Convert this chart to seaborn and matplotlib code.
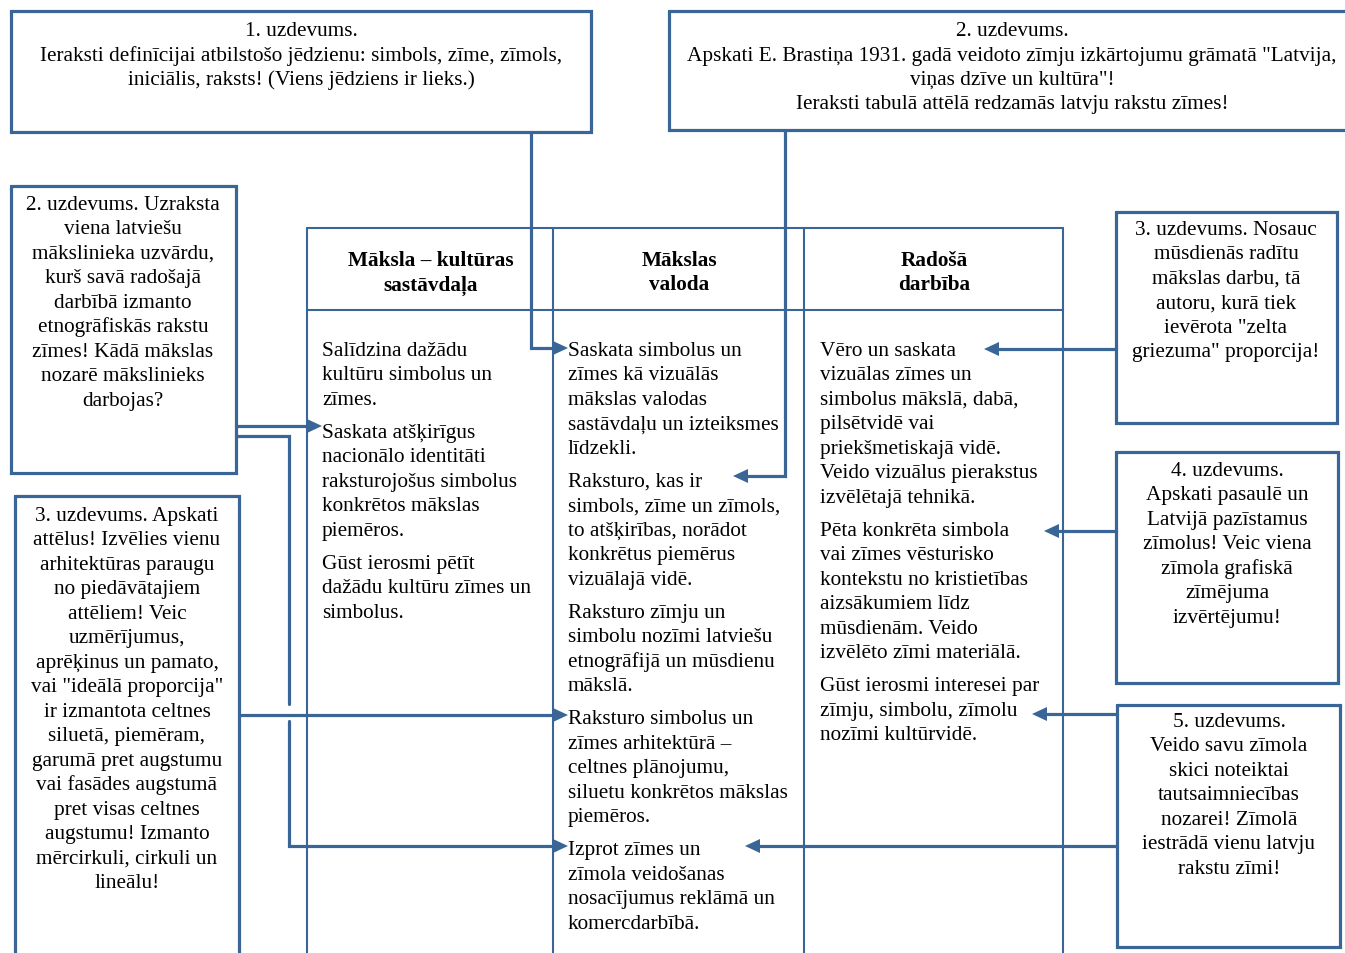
import matplotlib
matplotlib.use("Agg")
import matplotlib.pyplot as plt
import seaborn as sns

sns.set_theme(style="white")
plt.rcParams["font.family"] = ["Liberation Serif", "DejaVu Serif"]

# ---- texts ----
task_top1 = ["1. uzdevums.",
             "Ieraksti definīcijai atbilstošo jēdzienu: simbols, zīme, zīmols,",
             "iniciālis, raksts! (Viens jēdziens ir lieks.)"]
task_top2 = ["2. uzdevums.",
             "Apskati E. Brastiņa 1931. gadā veidoto zīmju izkārtojumu grāmatā \"Latvija,",
             "viņas dzīve un kultūra\"!",
             "Ieraksti tabulā attēlā redzamās latvju rakstu zīmes!"]
task_left2 = ["2. uzdevums. Uzraksta", "viena latviešu", "mākslinieka uzvārdu,",
              "kurš savā radošajā", "darbībā izmanto", "etnogrāfiskās rakstu",
              "zīmes! Kādā mākslas", "nozarē mākslinieks", "darbojas?"]
task_left3 = ["3. uzdevums. Apskati", "attēlus! Izvēlies vienu", "arhitektūras paraugu",
              "no piedāvātajiem", "attēliem! Veic", "uzmērījumus,", "aprēķinus un pamato,",
              "vai \"ideālā proporcija\"", "ir izmantota celtnes", "siluetā, piemēram,",
              "garumā pret augstumu", "vai fasādes augstumā", "pret visas celtnes",
              "augstumu! Izmanto", "mērcirkuli, cirkuli un", "lineālu!"]
task_right3 = ["3. uzdevums. Nosauc", "mūsdienās radītu", "mākslas darbu, tā",
               "autoru, kurā tiek", "ievērota \"zelta", "griezuma\" proporcija!"]
task_right4 = ["4. uzdevums.", "Apskati pasaulē un", "Latvijā pazīstamus",
               "zīmolus! Veic viena", "zīmola grafiskā", "zīmējuma", "izvērtējumu!"]
task_right5 = ["5. uzdevums.", "Veido savu zīmola", "skici noteiktai",
               "tautsaimniecības", "nozarei! Zīmolā", "iestrādā vienu latvju",
               "rakstu zīmi!"]

col_headers = [["Māksla – kultūras", "sastāvdaļa"],
               ["Mākslas", "valoda"],
               ["Radošā", "darbība"]]

col1_items = [["Salīdzina dažādu", "kultūru simbolus un", "zīmes."],
              ["Saskata atšķirīgus", "nacionālo identitāti", "raksturojošus simbolus",
               "konkrētos mākslas", "piemēros."],
              ["Gūst ierosmi pētīt", "dažādu kultūru zīmes un", "simbolus."]]
col2_items = [["Saskata simbolus un", "zīmes kā vizuālās", "mākslas valodas",
               "sastāvdaļu un izteiksmes", "līdzekli."],
              ["Raksturo, kas ir", "simbols, zīme un zīmols,", "to atšķirības, norādot",
               "konkrētus piemērus", "vizuālajā vidē."],
              ["Raksturo zīmju un", "simbolu nozīmi latviešu", "etnogrāfijā un mūsdienu",
               "mākslā."],
              ["Raksturo simbolus un", "zīmes arhitektūrā –", "celtnes plānojumu,",
               "siluetu konkrētos mākslas", "piemēros."],
              ["Izprot zīmes un", "zīmola veidošanas", "nosacījumus reklāmā un",
               "komercdarbībā."]]
col3_items = [["Vēro un saskata", "vizuālas zīmes un", "simbolus mākslā, dabā,",
               "pilsētvidē vai", "priekšmetiskajā vidē.", "Veido vizuālus pierakstus",
               "izvēlētajā tehnikā."],
              ["Pēta konkrēta simbola", "vai zīmes vēsturisko", "kontekstu no kristietības",
               "aizsākumiem līdz", "mūsdienām. Veido", "izvēlēto zīmi materiālā."],
              ["Gūst ierosmi interesei par", "zīmju, simbolu, zīmolu", "nozīmi kultūrvidē."]]

# ---- layout ----
BLUE = "#3a6697"
FS = 15.35
STEP = 24.5
PAR_GAP = 8.5

fig = plt.figure(figsize=(13.45, 9.54), dpi=100)
ax = fig.add_axes([0, 0, 1, 1])
ax.set_xlim(0, 1345)
ax.set_ylim(954, 0)
ax.axis("off")


def lines_at(x, y0, lines, ha="left", weight="normal"):
    for i, s in enumerate(lines):
        ax.text(x, y0 + i * STEP, s, ha=ha, va="baseline", fontsize=FS,
                fontweight=weight, color="black")
    return y0 + (len(lines) - 1) * STEP


def box(x0, y0, x1, y1):
    ax.plot([x0, x1, x1, x0, x0], [y0, y0, y1, y1, y0], color=BLUE, lw=2.3,
            solid_joinstyle="miter", clip_on=False)


def arrow(pts, head=15, half=7):
    xs = [p[0] for p in pts]
    ys = [p[1] for p in pts]
    (xa, ya), (xb, yb) = pts[-2], pts[-1]
    dx, dy = xb - xa, yb - ya
    n = (dx ** 2 + dy ** 2) ** 0.5
    ux, uy = dx / n, dy / n
    bx, by = xb - ux * head, yb - uy * head
    xs[-1], ys[-1] = bx, by
    ax.plot(xs, ys, color=BLUE, lw=2.3, solid_joinstyle="miter")
    ax.fill([xb, bx - uy * half, bx + uy * half], [yb, by + ux * half, by - ux * half],
            color=BLUE, lw=0)


# task boxes
boxes = [
    ((11, 12, 591, 133), 301, 36, task_top1),
    ((669, 12, 1352, 131), 1012, 36, task_top2),
    ((11, 187, 236, 474), 123, 210, task_left2),
    ((15, 497, 239, 970), 127, 521, task_left3),
    ((1116, 213, 1337, 424), 1226, 235, task_right3),
    ((1116, 453, 1338, 684), 1227, 476, task_right4),
    ((1117, 706, 1340, 948), 1229, 727, task_right5),
]
for (x0, y0, x1, y1), cx, b, txt in boxes:
    box(x0, y0, x1, y1)
    lines_at(cx, b, txt, ha="center")

# table
col_x = [307, 553, 804, 1063]
for x in col_x:
    ax.plot([x, x], [229, 960], color=BLUE, lw=1.5, clip_on=False)
for y in [229, 311]:
    ax.plot([col_x[0], col_x[-1]], [y, y], color=BLUE, lw=1.5)

for i, hdr in enumerate(col_headers):
    lines_at((col_x[i] + col_x[i + 1]) / 2 + 1, 266, hdr, ha="center", weight="bold")

for x, items in zip([322, 568, 820], [col1_items, col2_items, col3_items]):
    y = 356
    for par in items:
        y = lines_at(x, y, par) + STEP + PAR_GAP

# connectors
arrow([(531, 133), (531, 349), (568, 349)])
arrow([(785, 131), (785, 477), (733, 477)])
arrow([(236, 427), (322, 427)])
ax.plot([236, 289, 289], [437, 437, 705], color=BLUE, lw=2.3, solid_joinstyle="miter")
arrow([(289, 722), (289, 847), (568, 847)])
arrow([(239, 716), (568, 716)])
arrow([(1116, 350), (984, 350)])
arrow([(1116, 532), (1044, 532)])
arrow([(1117, 715), (1032, 715)])
arrow([(1117, 847), (745, 847)])

fig.savefig("out.png", dpi=100, facecolor="white")
